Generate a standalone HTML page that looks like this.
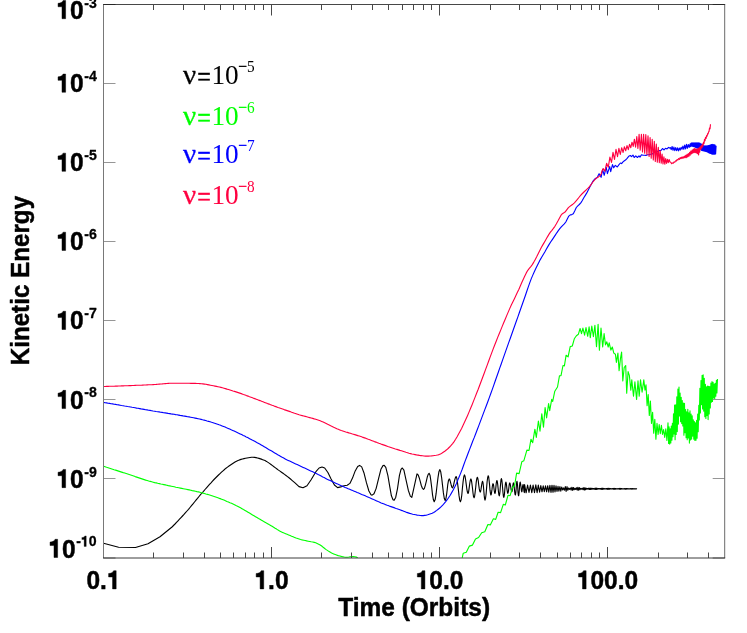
<!DOCTYPE html>
<html><head><meta charset="utf-8"><title>Kinetic Energy vs Time</title>
<style>
html,body{margin:0;padding:0;background:#fff;}
body{width:747px;height:633px;overflow:hidden;font-family:"Liberation Sans",sans-serif;}
svg{display:block;will-change:transform;}
.b{font-family:"Liberation Sans",sans-serif;font-weight:bold;font-size:24.5px;fill:#000;stroke:#000;stroke-width:0.45px;stroke-linejoin:round;}
.s{font-family:"Liberation Sans",sans-serif;font-weight:bold;font-size:14.1px;fill:#000;stroke:#000;stroke-width:0.3px;stroke-linejoin:round;}
.l{font-family:"Liberation Serif",serif;font-size:28px;}
.ls{font-family:"Liberation Serif",serif;font-size:17px;}
.c{fill:none;stroke-width:1.12;stroke-linejoin:round;stroke-linecap:butt;}
</style></head><body>
<svg width="747" height="633" viewBox="0 0 747 633">
<rect width="747" height="633" fill="#fff"/>
<defs><clipPath id="cp"><rect x="103.5" y="4.5" width="621.2" height="553.5"/></clipPath></defs>
<g clip-path="url(#cp)">
<path class="c" stroke="#000" d="M103.5 543.3L118.6 547.2L135.5 547.5L148.0 543.7L160.0 536.7L172.0 527.0L173.5 525.5L175.0 524.0L176.5 522.4L178.0 520.8L179.5 519.2L181.0 517.6L182.5 516.0L184.0 514.4L185.5 512.7L187.0 511.0L188.5 509.3L190.0 507.5L191.5 505.7L193.0 503.9L194.5 502.0L196.0 500.2L197.5 498.4L199.0 496.5L200.5 494.7L202.0 493.0L203.5 491.3L205.0 489.5L206.5 487.8L208.0 486.1L209.5 484.4L211.0 482.8L212.5 481.1L214.0 479.5L215.5 478.0L217.0 476.5L218.5 475.0L220.0 473.6L221.5 472.2L223.0 470.8L224.5 469.5L226.0 468.2L227.5 467.1L229.0 466.0L230.5 465.0L232.0 464.0L233.5 463.0L235.0 462.1L236.5 461.2L238.0 460.5L239.5 459.9L241.0 459.4L242.5 459.0L244.0 458.6L245.5 458.3L247.0 458.0L248.5 457.7L250.0 457.5L251.5 457.3L253.0 457.3L254.5 457.4L256.0 457.6L257.5 458.0L259.0 458.4L260.5 458.9L262.0 459.4L263.5 460.0L265.0 460.6L266.5 461.4L268.0 462.4L269.5 463.4L271.0 464.5L272.5 465.6L274.0 466.8L275.5 467.9L277.0 469.0L278.5 470.1L280.0 471.1L281.5 472.2L283.0 473.3L284.5 474.4L286.0 475.5L287.5 476.6L289.0 477.8L290.5 479.0L292.0 480.3L293.5 481.6L295.0 482.9L299.0 486.6L303.0 487.8L307.0 485.7L311.1 479.7L315.9 471.7L319.1 468.0L322.0 467.0L324.7 468.0L327.9 472.5L331.1 478.9L334.4 485.0L337.6 487.6L340.8 486.9L344.0 485.7L347.2 485.3L349.9 483.4L352.5 478.1L355.2 470.9L357.7 466.4L359.6 465.4L361.7 466.9L364.1 473.3L366.5 482.9L368.9 491.0L371.0 494.7L372.1 495.1L374.0 493.7L376.1 488.6L378.5 478.9L380.9 469.3L383.0 465.6L384.2 465.3L385.8 467.3L387.9 475.7L389.8 486.9L391.4 495.8L393.0 499.8L394.1 500.3L395.7 497.4L397.5 488.6L399.4 475.7L401.0 469.3L402.3 468.0L403.9 470.1L405.8 478.9L408.3 490.2L410.3 496.1L411.8 497.4L417.0 473.8L418.1 474.8L419.2 477.7L420.3 481.6L421.3 485.5L422.4 488.3L423.5 489.4L424.4 488.3L425.3 485.3L426.3 481.3L427.2 477.3L428.2 474.4L429.1 473.3L430.0 475.2L430.8 480.4L431.7 487.5L432.5 494.6L433.4 499.8L434.2 501.7L435.2 499.6L436.1 493.7L437.0 485.7L438.0 477.6L438.9 471.8L439.9 469.6L440.7 471.7L441.6 477.3L442.5 485.1L443.4 492.9L444.3 498.5L445.2 500.6L445.8 499.1L446.5 495.2L447.2 489.8L447.8 484.3L448.5 480.4L449.2 478.9L449.7 479.5L450.2 481.1L450.8 483.3L451.3 485.5L451.9 487.2L452.4 487.8L453.0 487.0L453.6 484.9L454.2 482.1L454.9 479.3L455.5 477.3L456.1 476.5L456.8 478.2L457.5 482.8L458.3 489.1L459.0 495.4L459.7 500.0L460.4 501.7L461.1 499.9L461.8 495.0L462.4 488.3L463.1 481.6L463.8 476.7L464.4 474.9L465.0 476.1L465.6 479.5L466.2 484.1L466.8 488.8L467.4 492.1L468.0 493.4L468.5 492.4L468.9 489.8L469.4 486.1L469.9 482.5L470.4 479.9L470.9 478.9L471.4 480.2L471.9 483.6L472.5 488.3L473.0 493.0L473.5 496.5L474.1 497.7L474.6 496.3L475.1 492.6L475.7 487.5L476.2 482.4L476.8 478.7L477.3 477.3L477.8 478.3L478.3 481.0L478.7 484.7L479.2 488.4L479.7 491.1L480.2 492.1L480.6 491.4L481.0 489.4L481.4 486.7L481.8 484.0L482.2 482.0L482.6 481.3L483.0 482.6L483.4 486.0L483.8 490.7L484.2 495.4L484.6 498.9L485.0 500.1L485.5 498.5L486.1 494.0L486.6 487.9L487.1 481.8L487.7 477.3L488.2 475.7L488.7 477.0L489.1 480.5L489.6 485.3L490.0 490.2L490.5 493.7L490.9 495.0L491.3 494.2L491.6 492.2L492.0 489.4L492.3 486.5L492.7 484.5L493.0 483.7L493.4 484.4L493.7 486.1L494.0 488.6L494.3 491.0L494.6 492.7L495.0 493.4L495.3 492.5L495.6 490.2L495.9 486.9L496.2 483.7L496.6 481.4L496.9 480.5L497.3 481.5L497.7 484.3L498.1 488.2L498.5 492.0L498.9 494.8L499.3 495.8L499.6 494.6L500.0 491.5L500.3 487.2L500.7 482.9L501.0 479.7L501.4 478.6L501.8 479.9L502.2 483.3L502.6 488.0L503.0 492.7L503.4 496.1L503.8 497.4L504.1 496.4L504.5 493.6L504.8 489.8L505.2 485.9L505.5 483.2L505.9 482.1L506.2 482.9L506.5 484.9L506.8 487.8L507.2 490.6L507.5 492.6L507.8 493.4L508.1 492.7L508.5 490.8L508.8 488.2L509.1 485.5L509.4 483.6L509.7 482.9L510.1 483.5L510.4 485.1L510.8 487.3L511.1 489.6L511.5 491.2L511.8 491.8L512.1 491.2L512.4 489.6L512.6 487.3L512.9 485.1L513.2 483.5L513.4 482.9L513.8 483.7L514.1 485.9L514.4 489.0L514.7 492.0L515.0 494.2L515.4 495.0L515.6 494.1L515.9 491.6L516.2 488.2L516.4 484.7L516.7 482.2L517.0 481.3L517.2 482.3L517.5 484.9L517.8 488.6L518.0 492.2L518.3 494.8L518.6 495.8L518.8 494.9L519.1 492.4L519.4 489.0L519.6 485.5L519.9 483.0L520.2 482.1L520.4 482.8L520.7 484.5L521.0 486.9L521.3 489.4L521.5 491.1L521.8 491.8L522.0 491.3L522.2 490.0L522.4 488.2L522.6 486.3L522.9 485.0L523.1 484.5L523.3 485.1L523.5 486.5L523.7 488.6L523.9 490.6L524.1 492.0L524.4 492.6L524.6 484.5L526.1 492.8L527.6 485.0L529.0 492.5L530.4 485.1L531.8 492.6L533.1 485.0L534.5 492.7L535.8 484.9L537.1 492.6L538.3 485.1L539.6 492.2L540.8 485.6L542.0 491.8L543.2 485.9L544.3 491.7L545.5 485.9L546.6 491.8L547.7 485.7L548.8 492.1L549.9 485.3L551.0 492.4L552.0 485.2L553.0 492.3L554.0 485.4L555.0 492.0L556.0 485.9L557.0 491.5L558.0 486.3L558.9 491.2L559.9 486.5L560.8 491.2L561.7 487.0L562.6 489.9L563.5 487.9L564.4 490.2L565.3 486.6L566.1 491.4L567.0 486.5L567.8 490.3L568.6 488.0L569.5 489.4L570.3 487.9L571.1 490.1L571.9 487.2L572.7 490.4L573.4 487.5L574.2 489.7L575.0 488.2L575.7 489.4L576.5 487.8L577.2 490.2L577.9 487.2L578.7 490.3L579.4 487.6L580.1 489.6L580.8 488.3L581.5 489.2L582.2 488.2L582.9 489.6L583.5 487.7L584.2 490.1L584.9 487.6L585.5 489.8L586.2 488.2L586.8 489.2L587.5 488.5L588.1 489.2L588.7 488.2L589.4 489.5L590.0 488.0L590.6 489.5L591.2 488.2L591.8 489.3L592.4 488.4L593.0 489.1L593.6 488.5L594.2 489.2L594.8 488.3L595.3 489.4L595.9 488.1L596.5 489.4L597.0 488.2L597.6 489.2L598.1 488.5L598.7 489.0L599.2 488.6L599.8 489.0L600.3 488.5L600.8 489.2L601.4 488.3L601.9 489.4L602.4 488.2L602.9 489.3L603.5 488.4L604.0 489.1L604.5 488.6L605.0 488.9L605.5 488.7L606.0 489.0L606.5 488.5L607.0 489.2L607.5 488.4L607.9 489.3L608.4 488.3L608.9 489.3L609.4 488.4L609.8 489.1L610.3 488.6L610.8 488.9L611.2 488.7L611.7 488.9L612.2 488.6L612.6 489.0L613.1 488.5L613.5 489.2L614.0 488.4L614.4 489.2L614.8 488.4L615.3 489.2L615.7 488.5L616.1 489.0L616.6 488.7L617.0 488.9L617.4 488.7L617.8 488.9L618.3 488.6L618.7 489.0L619.1 488.5L619.5 489.1L619.9 488.4L620.3 489.2L620.7 488.4L621.1 489.1L621.5 488.5L621.9 489.0L622.3 488.7L622.7 488.9L623.1 488.7L623.5 488.9L623.9 488.7L624.3 489.0L624.7 488.6L625.1 489.1L625.4 488.5L625.8 489.1L626.2 488.5L626.6 489.1L626.9 488.5L627.3 489.0L627.7 488.6L628.0 489.0L628.4 488.7L628.8 488.9L629.1 488.7L629.5 488.9L629.9 488.7L630.2 488.9L630.6 488.6L630.9 489.0L631.3 488.6L631.6 489.1L632.0 488.5L632.3 489.1L632.7 488.6L633.0 489.0L633.3 488.6L633.7 489.0L634.0 488.7L634.4 488.9L634.7 488.7L635.0 488.9L635.4 488.7L635.7 488.9L636.0 488.7L636.3 488.9L636.7 488.7L636.8 488.8"/>
<path class="c" stroke="#00ff00" d="M103.6 466.3L105.1 466.8L106.6 467.3L108.1 467.7L109.6 468.2L111.1 468.7L112.6 469.2L114.1 469.7L115.6 470.1L117.1 470.6L118.6 471.1L120.1 471.6L121.6 472.1L123.2 472.6L124.7 473.0L126.2 473.5L127.7 474.0L129.2 474.5L130.7 475.0L132.2 475.5L133.7 476.0L135.2 476.6L136.7 477.1L138.2 477.6L139.7 478.1L141.2 478.6L142.7 479.1L144.2 479.6L145.7 480.1L147.2 480.5L148.7 481.0L150.2 481.4L151.7 481.8L153.2 482.2L154.7 482.6L156.2 482.9L157.7 483.3L159.3 483.6L160.8 484.0L162.3 484.3L163.8 484.6L165.3 484.9L166.8 485.2L168.3 485.6L169.8 485.9L171.3 486.2L172.8 486.5L174.3 486.8L175.8 487.2L177.3 487.5L178.8 487.8L180.3 488.1L181.8 488.4L183.3 488.7L184.8 489.0L186.3 489.3L187.8 489.6L189.3 489.9L190.8 490.2L192.3 490.6L193.8 490.9L195.4 491.2L196.9 491.6L198.4 491.9L199.9 492.3L201.4 492.7L202.9 493.1L204.4 493.5L205.9 494.0L207.4 494.4L208.9 494.8L210.4 495.3L211.9 495.8L213.4 496.3L214.9 496.8L216.4 497.3L217.9 497.8L219.4 498.4L220.9 498.9L222.4 499.5L223.9 500.1L225.4 500.7L226.9 501.4L228.4 502.0L229.9 502.7L231.5 503.3L233.0 504.0L234.5 504.7L236.0 505.5L237.5 506.2L239.0 507.0L240.5 507.8L242.0 508.7L243.5 509.6L245.0 510.4L246.5 511.3L248.0 512.2L249.5 513.1L251.0 514.0L252.5 514.9L254.0 515.8L255.5 516.7L257.0 517.6L258.5 518.5L260.0 519.3L261.5 520.2L263.0 521.1L264.5 521.9L266.0 522.8L267.6 523.7L269.1 524.6L270.6 525.4L272.1 526.3L273.6 527.2L275.1 528.2L276.6 529.1L278.1 530.1L279.6 531.0L281.1 531.7L282.6 532.4L284.1 533.1L285.6 533.7L287.1 534.3L288.6 534.9L290.1 535.5L291.6 536.2L293.1 536.8L294.6 537.4L296.1 538.0L297.6 538.5L299.1 539.0L300.6 539.5L302.1 539.9L303.7 540.2L305.2 540.5L306.7 540.9L308.2 541.2L309.7 541.5L311.2 541.8L312.7 542.0L314.2 542.4L315.7 542.8L317.2 543.5L318.7 544.2L320.2 545.0L321.7 546.0L323.2 547.3L324.7 548.5L326.2 549.6L327.7 550.6L329.2 551.6L330.7 552.5L332.2 553.3L333.7 553.9L335.2 554.5L336.7 555.1L338.2 555.6L339.8 556.0L341.3 556.4L342.8 556.7L344.3 557.0L345.8 557.2L347.3 557.2L348.8 557.0L350.3 556.7L351.8 556.6L353.3 556.6L354.8 556.8L356.3 557.1L357.8 557.9"/>
<path class="c" stroke="#00ff00" d="M462.2 557.8L463.2 553.3L466.3 552.3L469.4 546.1L472.5 545.1L475.5 538.9L478.6 537.5L481.7 532.7L484.8 531.7L487.9 524.5L490.3 524.9L493.4 518.8L495.7 519.4L498.1 512.2L500.6 512.6L503.3 504.4L505.3 505.0L508.0 495.3L510.1 495.7L512.5 487.5L514.6 485.5L516.6 473.1L519.1 473.6L521.8 461.8L523.8 460.8L526.9 450.1L529.0 450.5L531.0 439.2L532.7 442.7L534.9 429.2L536.3 437.4L538.4 421.0L540.0 431.2L541.8 413.8L543.5 427.1L545.1 407.6L546.6 417.9L548.6 403.5L549.7 410.7L551.7 399.4L552.7 401.4L554.8 391.2L557.5 387.0L559.5 375.7L561.0 375.7L563.0 365.5L564.4 365.9L566.1 355.2L568.1 356.8L570.2 346.6L572.3 346.0L574.3 338.8L576.4 335.7L578.4 334.2L580.1 328.5L581.5 333.6L582.9 328.1L584.6 335.1L586.0 327.5L587.7 336.3L589.1 326.8L590.3 337.7L591.8 326.0L593.4 336.7L594.9 325.4L596.5 346.6L598.1 324.4L599.4 350.1L601.0 328.1L602.7 347.0L604.1 333.6L605.5 344.9L606.8 341.8L608.2 347.0L609.2 342.9L610.9 350.1L612.3 347.0L613.8 353.1L615.4 354.2L616.4 362.4L617.9 353.1L619.1 370.6L620.5 358.3L621.6 352.1L622.8 380.9L624.2 367.5L625.7 365.5L626.7 393.2L628.1 371.6L629.4 375.7L630.8 390.1L631.8 379.9L633.5 396.3L634.9 381.9L636.6 399.4L638.0 380.9L639.2 396.3L640.5 379.9L642.1 392.2L643.8 379.9L645.0 390.1L646.0 384.9L647.1 405.6L648.2 394.6L649.3 415.5L650.4 401.0L651.5 423.5L652.6 412.4L653.7 433.1L654.8 419.3L655.9 439.1L657.0 423.2L658.1 434.4L659.2 424.6L660.3 433.7L661.4 425.3L662.5 434.4L663.6 429.5L664.7 437.4L665.8 428.8L666.9 440.5L668.0 422.9L668.6 443.5L669.1 426.9L669.7 444.1L670.2 428.9L670.8 443.0L671.3 426.1L671.9 440.3L672.4 423.2L673.0 436.6L673.5 413.8L674.0 434.0L674.6 405.0L675.1 439.8L675.7 404.7L676.2 434.4L676.8 396.9L677.3 431.6L677.9 389.0L678.4 424.1L679.0 387.0L679.5 415.9L680.1 393.0L680.6 421.8L681.2 397.2L681.7 423.6L682.3 400.5L682.8 426.0L683.4 403.1L683.9 435.3L684.5 403.3L685.0 432.7L685.6 409.6L686.1 437.7L686.7 411.9L687.2 439.8L687.8 409.3L688.3 437.9L688.9 412.7L689.4 443.1L690.0 410.9L690.5 440.0L691.1 414.0L691.6 439.1L692.2 415.8L692.7 436.1L693.3 419.7L693.8 439.3L694.4 421.6L694.9 440.5L695.5 422.7L696.0 440.2L696.6 420.2L697.1 438.2L697.7 414.0L698.2 431.7L698.8 405.4L699.3 420.0L699.9 388.3L700.4 412.9L701.0 380.6L701.5 404.6L702.1 375.3L702.6 409.0L703.2 374.9L703.7 411.1L704.3 378.2L704.8 416.8L705.4 384.2L705.9 418.4L706.5 386.8L707.0 415.6L707.6 386.1L708.1 419.6L708.7 386.3L709.2 414.0L709.8 386.6L710.3 407.9L710.9 383.0L711.4 402.2L712.0 381.6L712.5 401.5L713.1 382.3L713.6 398.0L714.2 384.1L714.7 398.8L715.3 383.3L715.8 396.2L716.4 380.4L716.9 392.9L717.5 379.1"/>
<path class="c" stroke="#0000ff" d="M103.6 402.4L105.1 402.7L106.6 402.9L108.1 403.2L109.6 403.4L111.1 403.7L112.6 403.9L114.1 404.2L115.6 404.4L117.1 404.7L118.6 404.9L120.1 405.2L121.6 405.5L123.1 405.7L124.6 406.0L126.1 406.2L127.6 406.5L129.1 406.7L130.6 407.0L132.1 407.3L133.6 407.5L135.1 407.8L136.6 408.1L138.1 408.3L139.6 408.6L141.1 408.9L142.6 409.1L144.1 409.4L145.6 409.7L147.1 409.9L148.6 410.2L150.1 410.4L151.6 410.7L153.1 411.0L154.6 411.2L156.1 411.5L157.6 411.7L159.1 411.9L160.6 412.2L162.1 412.4L163.6 412.7L165.1 412.9L166.6 413.1L168.1 413.4L169.6 413.6L171.1 413.9L172.6 414.1L174.1 414.3L175.6 414.6L177.1 414.8L178.6 415.1L180.1 415.4L181.6 415.6L183.1 415.9L184.6 416.1L186.1 416.4L187.6 416.7L189.1 416.9L190.6 417.2L192.1 417.5L193.6 417.8L195.1 418.1L196.6 418.4L198.1 418.7L199.6 419.0L201.1 419.4L202.6 419.8L204.1 420.1L205.6 420.5L207.1 421.0L208.6 421.4L210.1 421.8L211.6 422.3L213.1 422.7L214.6 423.2L216.1 423.7L217.6 424.2L219.1 424.8L220.6 425.3L222.1 425.9L223.6 426.5L225.1 427.1L226.6 427.8L228.2 428.4L229.7 429.1L231.2 429.8L232.7 430.4L234.2 431.1L235.7 431.8L237.2 432.5L238.7 433.2L240.2 433.9L241.7 434.6L243.2 435.4L244.7 436.1L246.2 436.9L247.7 437.6L249.2 438.4L250.7 439.2L252.2 440.0L253.7 440.7L255.2 441.5L256.7 442.4L258.2 443.2L259.7 444.0L261.2 444.9L262.7 445.8L264.2 446.7L265.7 447.6L267.2 448.5L268.7 449.4L270.2 450.2L271.7 451.1L273.2 452.0L274.7 452.9L276.2 453.8L277.7 454.7L279.2 455.5L280.7 456.4L282.2 457.3L283.7 458.1L285.2 458.9L286.7 459.7L288.2 460.4L289.7 461.1L291.2 461.8L292.7 462.5L294.2 463.2L295.7 463.9L297.2 464.6L298.7 465.3L300.2 466.0L301.7 466.7L303.2 467.4L304.7 468.1L306.2 468.8L307.7 469.5L309.2 470.2L310.7 470.9L312.2 471.6L313.7 472.3L315.2 473.1L316.7 473.8L318.2 474.6L319.7 475.3L321.2 476.1L322.7 476.9L324.2 477.6L325.7 478.4L327.2 479.2L328.7 479.9L330.2 480.6L331.7 481.3L333.2 482.0L334.7 482.7L336.2 483.4L337.7 484.1L339.2 484.7L340.7 485.4L342.2 486.0L343.7 486.7L345.2 487.4L346.7 488.0L348.2 488.7L349.7 489.3L351.2 489.9L352.7 490.6L354.2 491.2L355.7 491.8L357.2 492.5L358.7 493.1L360.2 493.7L361.7 494.4L363.2 495.0L364.7 495.6L366.2 496.3L367.7 496.9L369.2 497.6L370.7 498.2L372.2 498.9L373.7 499.6L375.2 500.2L376.7 500.9L378.2 501.6L379.7 502.2L381.2 502.9L382.7 503.5L384.2 504.1L385.7 504.7L387.2 505.3L388.7 505.8L390.2 506.4L391.7 506.9L393.2 507.4L394.7 507.9L396.2 508.5L397.7 509.0L399.2 509.5L400.7 510.1L402.2 510.6L403.7 511.2L405.2 511.8L406.7 512.4L408.2 512.9L409.7 513.4L411.2 513.8L412.7 514.2L414.2 514.5L415.7 514.8L417.2 515.1L418.7 515.3L420.2 515.5L421.7 515.6L423.2 515.6L424.7 515.4L426.2 515.2L427.7 514.8L429.2 514.3L430.7 513.8L432.2 513.3L433.7 512.5L435.2 511.5L436.7 510.4L438.2 509.2L439.7 508.0L441.2 506.6L442.7 505.1L444.2 503.4L445.7 501.6L447.2 499.7L448.7 497.5L450.2 495.2L451.7 492.6L453.2 489.9L454.7 487.0L456.2 483.9L457.7 480.4L459.2 476.8L460.7 473.1L462.2 469.2L463.7 465.0L465.2 460.9L466.7 457.0L468.2 453.0L469.7 449.1L471.2 445.2L472.7 441.3L474.3 437.4L475.8 433.5L477.3 429.5L478.8 425.6L480.3 421.6L481.8 417.6L483.3 413.6L484.8 409.6L486.3 405.7L487.8 401.7L489.3 397.6L490.8 393.5L492.3 389.4L493.8 385.1L495.3 380.8L496.8 376.5L498.3 372.2L499.8 367.9L501.3 363.7L502.8 359.4L504.3 355.1L505.8 350.9L507.3 346.6L508.8 342.4L510.3 338.2L511.8 334.0L513.3 329.8L514.8 325.5L516.3 321.3L517.8 317.1L519.3 312.8L520.8 308.5L522.3 304.2L523.8 300.0L525.3 295.7L526.8 291.3L528.3 286.9L529.8 282.6L531.3 278.6L532.8 275.1L534.3 271.7L535.8 268.5L537.3 265.4L538.8 262.4L540.3 259.6L541.8 257.0L543.3 254.5L544.8 252.0L546.3 249.2L547.8 246.6L549.3 244.1L550.8 241.8L552.3 239.6L553.8 237.4L555.3 235.1L556.8 232.8L558.3 230.7L559.8 228.7L561.3 226.9L562.8 225.3L564.3 223.9L565.8 222.0L567.3 219.0L568.8 216.1L570.3 214.9L571.8 214.6L573.3 213.8L574.8 210.8L576.3 207.5L577.8 205.8L579.3 204.5L580.8 202.9L582.3 200.5L583.8 197.8L585.3 195.4L586.8 192.9L588.3 190.1L589.8 187.1L591.3 184.3L592.8 181.4L594.3 179.5L595.8 178.3L597.3 177.6L597.9 176.1L599.1 173.7L601.1 177.3L602.6 169.4L604.2 175.3L606.2 167.0L607.4 173.7L609.7 166.6L610.7 171.7L612.5 164.6L613.7 167.8L615.3 165.4L617.3 167.0L618.8 164.9L620.4 163.0L621.6 163.6L623.0 161.9L624.4 160.7L625.5 160.1L627.1 158.3L628.7 156.3L630.3 155.5L631.5 156.7L633.0 155.1L634.2 157.5L635.8 155.9L637.4 157.5L639.0 155.9L640.0 157.1L641.5 154.8L643.0 155.3L644.5 155.3L646.0 155.4L647.5 154.8L649.0 154.8L650.5 154.2L652.0 154.1L653.5 153.2L655.0 151.7L656.5 151.4L658.0 151.4L659.5 150.5L661.0 150.4L662.5 148.5L664.0 149.9L665.5 148.3L667.0 148.9L668.5 147.3L669.4 148.1L670.3 147.6L671.2 149.6L672.1 146.5L673.0 150.3L673.9 147.1L674.8 150.6L675.7 147.6L676.6 150.6L677.5 147.9L678.4 150.9L679.3 148.0L680.2 150.2L681.1 147.3L682.0 149.3L682.9 146.1L683.8 149.3L684.7 145.0L685.6 148.9L686.5 144.4L687.4 148.3L688.3 144.5L689.2 147.4L690.1 143.9L690.6 146.7L691.1 143.1L691.6 146.2L692.1 142.7L692.6 146.4L693.1 142.7L693.6 146.6L694.1 142.7L694.6 147.0L695.1 142.7L695.6 147.5L696.1 142.7L696.6 148.0L697.1 142.7L697.6 148.3L698.1 142.7L698.6 148.5L699.1 142.7L699.6 149.0L700.1 143.2L700.6 149.7L701.1 143.7L701.6 150.5L702.1 144.2L702.6 150.8L703.1 145.0L703.6 151.0L704.1 145.7L704.6 151.3L705.1 145.9L705.6 151.5L706.1 145.9L706.6 151.8L707.1 145.8L707.6 152.2L708.1 145.6L708.6 152.7L709.1 145.3L709.6 153.2L710.1 145.0L710.6 153.5L711.1 144.6L711.6 153.9L712.1 144.4L712.6 154.1L713.1 144.5L713.6 154.2L714.1 144.6L714.6 154.3L715.1 145.0L715.6 154.0L716.1 145.6"/>
<path class="c" stroke="#ff0040" d="M103.6 386.5L105.1 386.5L106.6 386.4L108.1 386.4L109.6 386.3L111.1 386.3L112.6 386.2L114.1 386.2L115.6 386.1L117.1 386.1L118.6 386.0L120.1 386.0L121.7 385.9L123.2 385.9L124.7 385.8L126.2 385.7L127.7 385.7L129.2 385.6L130.7 385.6L132.2 385.5L133.7 385.5L135.2 385.4L136.7 385.3L138.2 385.3L139.7 385.2L141.2 385.2L142.7 385.1L144.2 385.0L145.7 385.0L147.2 384.9L148.7 384.8L150.2 384.7L151.7 384.7L153.2 384.6L154.7 384.5L156.2 384.4L157.8 384.2L159.3 384.1L160.8 384.0L162.3 383.9L163.8 383.7L165.3 383.6L166.8 383.5L168.3 383.4L169.8 383.3L171.3 383.3L172.8 383.2L174.3 383.2L175.8 383.2L177.3 383.2L178.8 383.2L180.3 383.2L181.8 383.2L183.3 383.2L184.8 383.3L186.3 383.3L187.8 383.3L189.3 383.3L190.8 383.4L192.3 383.4L193.9 383.4L195.4 383.4L196.9 383.5L198.4 383.5L199.9 383.6L201.4 383.7L202.9 383.9L204.4 384.1L205.9 384.3L207.4 384.6L208.9 384.9L210.4 385.2L211.9 385.5L213.4 385.8L214.9 386.1L216.4 386.4L217.9 386.7L219.4 387.0L220.9 387.4L222.4 387.8L223.9 388.2L225.4 388.6L226.9 389.1L228.5 389.5L230.0 390.0L231.5 390.5L233.0 391.0L234.5 391.4L236.0 391.9L237.5 392.4L239.0 392.9L240.5 393.4L242.0 393.9L243.5 394.5L245.0 395.0L246.5 395.6L248.0 396.1L249.5 396.7L251.0 397.2L252.5 397.8L254.0 398.4L255.5 398.9L257.0 399.5L258.5 400.1L260.0 400.6L261.5 401.2L263.0 401.8L264.6 402.4L266.1 403.0L267.6 403.6L269.1 404.1L270.6 404.7L272.1 405.3L273.6 405.8L275.1 406.4L276.6 406.9L278.1 407.5L279.6 408.0L281.1 408.5L282.6 409.0L284.1 409.6L285.6 410.1L287.1 410.6L288.6 411.1L290.1 411.6L291.6 412.2L293.1 412.7L294.6 413.3L296.1 413.8L297.6 414.3L299.1 414.8L300.7 415.2L302.2 415.6L303.7 416.0L305.2 416.4L306.7 416.8L308.2 417.2L309.7 417.6L311.2 418.0L312.7 418.4L314.2 418.9L315.7 419.3L317.2 419.8L318.7 420.3L320.2 420.8L321.7 421.4L323.2 422.1L324.7 422.8L326.2 423.5L327.7 424.3L329.2 425.0L330.7 425.8L332.2 426.5L333.7 427.3L335.3 428.0L336.8 428.7L338.3 429.3L339.8 429.9L341.3 430.5L342.8 431.0L344.3 431.5L345.8 432.0L347.3 432.4L348.8 432.9L350.3 433.3L351.8 433.8L353.3 434.2L354.8 434.6L356.3 435.1L357.8 435.6L359.3 436.0L360.8 436.5L362.3 437.1L363.8 437.6L365.3 438.1L366.8 438.7L368.3 439.3L369.8 439.8L371.4 440.4L372.9 441.0L374.4 441.6L375.9 442.1L377.4 442.7L378.9 443.3L380.4 443.8L381.9 444.4L383.4 444.9L384.9 445.4L386.4 445.9L387.9 446.5L389.4 447.0L390.9 447.5L392.4 448.0L393.9 448.5L395.4 449.0L396.9 449.4L398.4 449.9L399.9 450.4L401.4 450.8L402.9 451.3L404.4 451.8L406.0 452.3L407.5 452.7L409.0 453.2L410.5 453.6L412.0 454.0L413.5 454.3L415.0 454.6L416.5 454.9L418.0 455.1L419.5 455.4L421.0 455.6L422.5 455.8L424.0 456.0L425.5 456.1L427.0 456.1L428.5 456.1L430.0 456.0L431.5 455.9L433.0 455.7L434.5 455.5L436.0 455.3L437.5 455.0L439.0 454.6L440.5 453.9L442.1 453.0L443.6 452.0L445.1 451.0L446.6 449.8L448.1 448.5L449.6 447.0L451.1 445.4L452.6 443.6L454.1 441.6L455.6 439.3L457.1 436.8L458.6 434.1L460.1 431.3L461.6 428.4L463.1 425.3L464.6 422.1L466.1 418.8L467.6 415.4L469.1 411.9L470.6 408.3L472.1 404.7L473.6 400.9L475.1 397.1L476.6 393.2L478.2 389.3L479.7 385.3L481.2 381.3L482.7 377.2L484.2 373.2L485.7 369.1L487.2 365.1L488.7 361.0L490.2 356.9L491.7 352.9L493.2 348.9L494.7 345.0L496.2 341.2L497.7 337.4L499.2 333.7L500.7 330.1L502.2 326.4L503.7 322.8L505.2 319.2L506.7 315.6L508.2 312.1L509.7 308.6L511.2 305.3L512.8 302.0L514.3 298.9L515.8 295.8L517.3 292.6L518.8 289.4L520.3 286.0L521.8 282.6L523.3 279.3L524.8 276.1L526.3 272.9L527.8 270.3L529.3 268.3L530.8 266.6L532.3 264.6L533.8 262.1L535.3 259.4L536.8 256.6L538.3 253.5L539.8 250.4L541.3 247.5L542.8 244.9L544.3 242.4L545.8 239.8L547.3 237.1L548.9 234.4L550.4 232.1L551.9 230.3L553.4 228.4L554.9 226.3L556.4 223.8L557.9 221.1L559.4 218.2L560.9 215.4L562.4 213.7L563.9 212.8L565.4 211.7L566.9 209.7L568.4 207.7L569.9 206.4L571.4 205.3L572.9 204.2L574.4 202.8L575.9 201.2L577.4 199.4L578.9 197.5L580.4 195.6L581.9 194.0L583.4 192.5L585.0 191.0L586.5 189.6L588.0 188.2L589.5 186.7L591.0 184.7L592.5 182.5L594.0 180.7L595.5 179.0L597.0 177.7L598.5 176.9L600.0 175.6L601.5 173.5L601.4 172.7L603.2 168.5L604.9 171.2L606.6 163.3L608.3 167.2L609.9 157.1L611.5 162.4L613.0 152.4L614.5 159.4L616.0 149.4L617.5 156.6L618.9 148.3L620.3 154.5L621.7 147.7L623.1 152.5L624.4 146.7L625.7 150.8L627.0 145.6L628.3 149.7L629.5 144.3L630.8 147.7L632.0 142.2L633.2 146.4L634.4 139.2L635.6 147.1L636.8 136.5L637.9 148.5L639.1 134.4L640.2 150.1L641.4 134.3L642.5 151.9L643.6 134.4L644.7 153.2L645.8 134.6L646.9 154.8L648.0 135.9L649.1 156.5L650.1 137.5L651.2 158.2L652.2 139.2L653.3 159.9L654.3 141.3L655.3 161.4L656.3 144.1L657.3 162.2L658.3 147.2L659.3 162.8L660.2 150.7L661.2 163.2L662.1 154.0L663.0 163.9L663.9 156.9L664.8 164.3L665.7 158.5L666.6 163.5L667.5 159.2L668.3 162.7L669.2 159.6L670.0 162.0L670.8 162.3L671.6 163.7L672.5 162.9L673.3 163.2L674.0 161.9L674.8 162.2L675.6 160.8L676.4 161.1L677.1 159.6L677.9 160.0L678.6 158.6L679.4 159.3L680.1 157.6L680.8 158.7L681.5 157.2L682.2 158.4L682.9 156.8L683.6 158.1L684.3 156.1L685.0 157.8L685.7 155.3L686.3 157.6L687.0 154.4L687.7 157.0L688.3 153.5L688.9 156.3L689.6 152.4L690.2 155.2L690.8 151.1L691.5 153.9L692.1 150.0L692.7 153.2L693.3 149.1L693.9 152.6L694.5 148.5L695.1 152.7L695.7 148.8L696.3 153.0L696.9 149.0L697.4 153.8L698.0 148.6L698.6 155.0L699.1 147.9L699.7 152.1L700.2 146.8L700.8 149.5L701.3 145.5L701.9 147.9L702.4 144.1L702.9 146.3L703.5 142.2L704.0 143.6L704.5 139.4L705.0 140.8L705.5 137.3L706.1 138.5L706.6 135.6L707.1 136.1L707.6 133.6L708.1 133.9L708.6 131.7L709.0 131.6L709.5 128.1L710.0 128.9L710.5 124.2"/>
</g>
<path d="M153.5 558.0v-5.5M153.5 4.5v5.5M183.5 558.0v-5.5M183.5 4.5v5.5M204.5 558.0v-5.5M204.5 4.5v5.5M220.5 558.0v-5.5M220.5 4.5v5.5M233.5 558.0v-5.5M233.5 4.5v5.5M245.5 558.0v-5.5M245.5 4.5v5.5M254.5 558.0v-5.5M254.5 4.5v5.5M263.5 558.0v-5.5M263.5 4.5v5.5M271.5 558.0v-11.0M271.5 4.5v11.0M321.5 558.0v-5.5M321.5 4.5v5.5M351.5 558.0v-5.5M351.5 4.5v5.5M372.5 558.0v-5.5M372.5 4.5v5.5M388.5 558.0v-5.5M388.5 4.5v5.5M402.5 558.0v-5.5M402.5 4.5v5.5M413.5 558.0v-5.5M413.5 4.5v5.5M423.5 558.0v-5.5M423.5 4.5v5.5M431.5 558.0v-5.5M431.5 4.5v5.5M439.5 558.0v-11.0M439.5 4.5v11.0M490.5 558.0v-5.5M490.5 4.5v5.5M519.5 558.0v-5.5M519.5 4.5v5.5M540.5 558.0v-5.5M540.5 4.5v5.5M557.5 558.0v-5.5M557.5 4.5v5.5M570.5 558.0v-5.5M570.5 4.5v5.5M581.5 558.0v-5.5M581.5 4.5v5.5M591.5 558.0v-5.5M591.5 4.5v5.5M599.5 558.0v-5.5M599.5 4.5v5.5M607.5 558.0v-11.0M607.5 4.5v11.0M658.5 558.0v-5.5M658.5 4.5v5.5M687.5 558.0v-5.5M687.5 4.5v5.5M708.5 558.0v-5.5M708.5 4.5v5.5" stroke="#484848" stroke-width="1" fill="none"/>
<path d="M103.5 83.5h12M724.7 83.5h-12M103.5 162.5h12M724.7 162.5h-12M103.5 241.5h12M724.7 241.5h-12M103.5 320.5h12M724.7 320.5h-12M103.5 399.5h12M724.7 399.5h-12M103.5 478.5h12M724.7 478.5h-12" stroke="#969696" stroke-width="1" fill="none"/>
<path d="M103.5 4.5V558.0" stroke="#787878" stroke-width="1" fill="none"/>
<path d="M724.7 4.5V558.0" stroke="#6a6a6a" stroke-width="1" fill="none"/>
<path d="M103.0 4.5H725.2" stroke="#484848" stroke-width="1" fill="none"/>
<path d="M103.0 558.0H725.2" stroke="#3c3c3c" stroke-width="1" fill="none"/>
<path d="M103.5 4.5h12M724.7 4.5h-12M103.5 558.0h12M724.7 558.0h-12" stroke="#000" stroke-opacity="0.45" stroke-width="1" fill="none"/>
<path transform="translate(56.36 18.70) scale(0.02450 -0.02568)" d="M378 0H230V465H69V600C160 600 250 640 275 709H378Z" fill="#000" stroke="#000" stroke-width="0.45" vector-effect="non-scaling-stroke" stroke-linejoin="round"/><text transform="translate(69.98 18.70) scale(1 1.08)" class="b" style="font-size:24.5px">0</text><text transform="translate(84.20 7.60) scale(1 1.08)" class="s" style="font-size:14.1px">-</text><text transform="translate(88.90 7.60) scale(1 1.08)" class="s" style="font-size:14.1px">3</text>
<path transform="translate(56.36 92.27) scale(0.02450 -0.02568)" d="M378 0H230V465H69V600C160 600 250 640 275 709H378Z" fill="#000" stroke="#000" stroke-width="0.45" vector-effect="non-scaling-stroke" stroke-linejoin="round"/><text transform="translate(69.98 92.27) scale(1 1.08)" class="b" style="font-size:24.5px">0</text><text transform="translate(84.20 81.17) scale(1 1.08)" class="s" style="font-size:14.1px">-</text><text transform="translate(88.90 81.17) scale(1 1.08)" class="s" style="font-size:14.1px">4</text>
<path transform="translate(56.36 171.34) scale(0.02450 -0.02568)" d="M378 0H230V465H69V600C160 600 250 640 275 709H378Z" fill="#000" stroke="#000" stroke-width="0.45" vector-effect="non-scaling-stroke" stroke-linejoin="round"/><text transform="translate(69.98 171.34) scale(1 1.08)" class="b" style="font-size:24.5px">0</text><text transform="translate(84.20 160.24) scale(1 1.08)" class="s" style="font-size:14.1px">-</text><text transform="translate(88.90 160.24) scale(1 1.08)" class="s" style="font-size:14.1px">5</text>
<path transform="translate(56.36 250.41) scale(0.02450 -0.02568)" d="M378 0H230V465H69V600C160 600 250 640 275 709H378Z" fill="#000" stroke="#000" stroke-width="0.45" vector-effect="non-scaling-stroke" stroke-linejoin="round"/><text transform="translate(69.98 250.41) scale(1 1.08)" class="b" style="font-size:24.5px">0</text><text transform="translate(84.20 239.31) scale(1 1.08)" class="s" style="font-size:14.1px">-</text><text transform="translate(88.90 239.31) scale(1 1.08)" class="s" style="font-size:14.1px">6</text>
<path transform="translate(56.36 329.49) scale(0.02450 -0.02568)" d="M378 0H230V465H69V600C160 600 250 640 275 709H378Z" fill="#000" stroke="#000" stroke-width="0.45" vector-effect="non-scaling-stroke" stroke-linejoin="round"/><text transform="translate(69.98 329.49) scale(1 1.08)" class="b" style="font-size:24.5px">0</text><text transform="translate(84.20 318.39) scale(1 1.08)" class="s" style="font-size:14.1px">-</text><text transform="translate(88.90 318.39) scale(1 1.08)" class="s" style="font-size:14.1px">7</text>
<path transform="translate(56.36 408.56) scale(0.02450 -0.02568)" d="M378 0H230V465H69V600C160 600 250 640 275 709H378Z" fill="#000" stroke="#000" stroke-width="0.45" vector-effect="non-scaling-stroke" stroke-linejoin="round"/><text transform="translate(69.98 408.56) scale(1 1.08)" class="b" style="font-size:24.5px">0</text><text transform="translate(84.20 397.46) scale(1 1.08)" class="s" style="font-size:14.1px">-</text><text transform="translate(88.90 397.46) scale(1 1.08)" class="s" style="font-size:14.1px">8</text>
<path transform="translate(56.36 487.63) scale(0.02450 -0.02568)" d="M378 0H230V465H69V600C160 600 250 640 275 709H378Z" fill="#000" stroke="#000" stroke-width="0.45" vector-effect="non-scaling-stroke" stroke-linejoin="round"/><text transform="translate(69.98 487.63) scale(1 1.08)" class="b" style="font-size:24.5px">0</text><text transform="translate(84.20 476.53) scale(1 1.08)" class="s" style="font-size:14.1px">-</text><text transform="translate(88.90 476.53) scale(1 1.08)" class="s" style="font-size:14.1px">9</text>
<path transform="translate(48.36 557.50) scale(0.02450 -0.02568)" d="M378 0H230V465H69V600C160 600 250 640 275 709H378Z" fill="#000" stroke="#000" stroke-width="0.45" vector-effect="non-scaling-stroke" stroke-linejoin="round"/><text transform="translate(61.98 557.50) scale(1 1.08)" class="b" style="font-size:24.5px">0</text><text transform="translate(76.20 546.40) scale(1 1.08)" class="s" style="font-size:14.1px">-</text><path transform="translate(80.90 546.40) scale(0.01410 -0.01478)" d="M378 0H230V465H69V600C160 600 250 640 275 709H378Z" fill="#000" stroke="#000" stroke-width="0.3" vector-effect="non-scaling-stroke" stroke-linejoin="round"/><text transform="translate(88.73 546.40) scale(1 1.08)" class="s" style="font-size:14.1px">0</text>
<text transform="translate(86.47 588.90) scale(1 1.08)" class="b" style="font-size:24.5px">0</text><text transform="translate(100.09 588.90) scale(1 1.08)" class="b" style="font-size:24.5px">.</text><path transform="translate(106.91 588.90) scale(0.02450 -0.02568)" d="M378 0H230V465H69V600C160 600 250 640 275 709H378Z" fill="#000" stroke="#000" stroke-width="0.45" vector-effect="non-scaling-stroke" stroke-linejoin="round"/>
<path transform="translate(254.47 588.90) scale(0.02450 -0.02568)" d="M378 0H230V465H69V600C160 600 250 640 275 709H378Z" fill="#000" stroke="#000" stroke-width="0.45" vector-effect="non-scaling-stroke" stroke-linejoin="round"/><text transform="translate(268.09 588.90) scale(1 1.08)" class="b" style="font-size:24.5px">.</text><text transform="translate(274.91 588.90) scale(1 1.08)" class="b" style="font-size:24.5px">0</text>
<path transform="translate(415.66 588.90) scale(0.02450 -0.02568)" d="M378 0H230V465H69V600C160 600 250 640 275 709H378Z" fill="#000" stroke="#000" stroke-width="0.45" vector-effect="non-scaling-stroke" stroke-linejoin="round"/><text transform="translate(429.28 588.90) scale(1 1.08)" class="b" style="font-size:24.5px">0</text><text transform="translate(442.91 588.90) scale(1 1.08)" class="b" style="font-size:24.5px">.</text><text transform="translate(449.72 588.90) scale(1 1.08)" class="b" style="font-size:24.5px">0</text>
<path transform="translate(576.85 588.90) scale(0.02450 -0.02568)" d="M378 0H230V465H69V600C160 600 250 640 275 709H378Z" fill="#000" stroke="#000" stroke-width="0.45" vector-effect="non-scaling-stroke" stroke-linejoin="round"/><text transform="translate(590.47 588.90) scale(1 1.08)" class="b" style="font-size:24.5px">0</text><text transform="translate(604.09 588.90) scale(1 1.08)" class="b" style="font-size:24.5px">0</text><text transform="translate(617.72 588.90) scale(1 1.08)" class="b" style="font-size:24.5px">.</text><text transform="translate(624.53 588.90) scale(1 1.08)" class="b" style="font-size:24.5px">0</text>
<text transform="translate(414.10 615.70) scale(1.0 1.08)" text-anchor="middle" class="b">Time (Orbits)</text>
<text transform="translate(29.4 280.6) rotate(-90) scale(0.988 1.08)" text-anchor="middle" class="b">Kinetic Energy</text>
<text transform="translate(183 84.0) scale(1.04 1)" class="l" fill="#000" stroke="#000" stroke-width="0.3">ν</text><text transform="translate(197.3 85.7) scale(0.86 1)" class="l" fill="#000" stroke="#000" stroke-width="0.5">=</text><text transform="translate(211.4 84.0) scale(0.975 1)" class="l" fill="#000">10</text><text transform="translate(238.3 71.9) scale(0.9 1)" class="ls" fill="#000"><tspan stroke="#000" stroke-width="0.5">−</tspan>5</text>
<text transform="translate(183 125.3) scale(1.04 1)" class="l" fill="#00ff00" stroke="#00ff00" stroke-width="0.3">ν</text><text transform="translate(197.3 127.0) scale(0.86 1)" class="l" fill="#00ff00" stroke="#00ff00" stroke-width="0.5">=</text><text transform="translate(211.4 125.3) scale(0.975 1)" class="l" fill="#00ff00">10</text><text transform="translate(238.3 113.2) scale(0.9 1)" class="ls" fill="#00ff00"><tspan stroke="#00ff00" stroke-width="0.5">−</tspan>6</text>
<text transform="translate(183 162.9) scale(1.04 1)" class="l" fill="#0000ff" stroke="#0000ff" stroke-width="0.3">ν</text><text transform="translate(197.3 164.6) scale(0.86 1)" class="l" fill="#0000ff" stroke="#0000ff" stroke-width="0.5">=</text><text transform="translate(211.4 162.9) scale(0.975 1)" class="l" fill="#0000ff">10</text><text transform="translate(238.3 150.8) scale(0.9 1)" class="ls" fill="#0000ff"><tspan stroke="#0000ff" stroke-width="0.5">−</tspan>7</text>
<text transform="translate(183 204.3) scale(1.04 1)" class="l" fill="#ff0040" stroke="#ff0040" stroke-width="0.3">ν</text><text transform="translate(197.3 206.0) scale(0.86 1)" class="l" fill="#ff0040" stroke="#ff0040" stroke-width="0.5">=</text><text transform="translate(211.4 204.3) scale(0.975 1)" class="l" fill="#ff0040">10</text><text transform="translate(238.3 192.2) scale(0.9 1)" class="ls" fill="#ff0040"><tspan stroke="#ff0040" stroke-width="0.5">−</tspan>8</text>
</svg>
</body></html>
